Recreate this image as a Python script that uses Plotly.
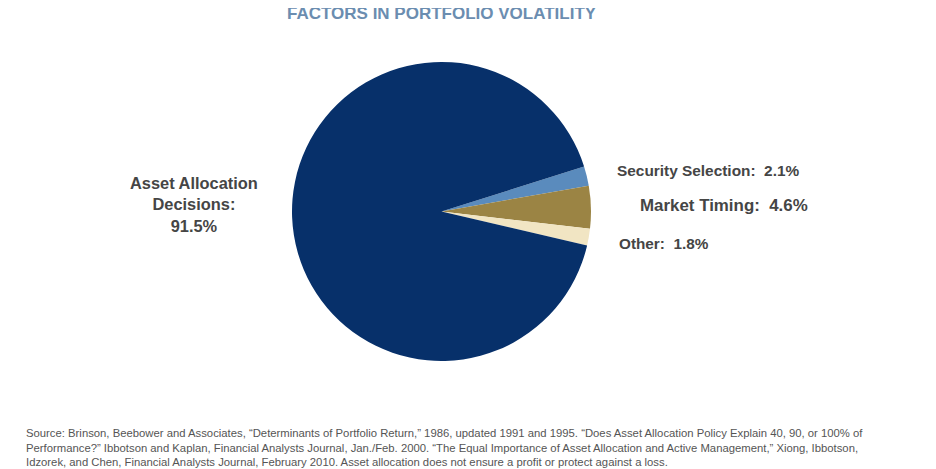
import plotly.graph_objects as go

# slices, clockwise from the top edge of Security Selection
labels = ["Security Selection", "Market Timing", "Other", "Asset Allocation Decisions"]
values = [2.1, 4.6, 1.8, 91.5]
colors = ["#5a8bbd", "#9b8444", "#f1e5c3", "#07306a"]

title = "FACTORS IN PORTFOLIO VOLATILITY"
source_lines = [
    "Source: Brinson, Beebower and Associates, “Determinants of Portfolio Return,” 1986, updated 1991 and 1995. “Does Asset Allocation Policy Explain 40, 90, or 100% of",
    "Performance?” Ibbotson and Kaplan, Financial Analysts Journal, Jan./Feb. 2000. “The Equal Importance of Asset Allocation and Active Management,” Xiong, Ibbotson,",
    "Idzorek, and Chen, Financial Analysts Journal, February 2010. Asset allocation does not ensure a profit or protect against a loss.",
]

# page has an 8px body margin, figure fills the rest of the window
OFF = 8
W, H = 928, 461


def px(x):
    return (x - OFF) / W


def py(y):
    return 1 - (y - OFF) / H


fig = go.Figure(go.Pie(
    labels=labels,
    values=values,
    marker=dict(colors=colors, line=dict(width=0)),
    sort=False,
    direction="clockwise",
    rotation=72.5,
    textinfo="none",
    hoverinfo="label+percent",
    showlegend=False,
    domain=dict(x=[px(292), px(591)], y=[py(361), py(62)]),
))

FONT = "Liberation Sans, Arial, sans-serif"

# label positions in pixels (x, y, font size)
pos = {
    "Security Selection": (615, 170, 15.4),
    "Market Timing": (638, 206, 16.9),
    "Other": (617, 243, 15.3),
}
for name, v in zip(labels, values):
    if name in pos:
        x, y, fs = pos[name]
        fig.add_annotation(x=px(x), y=py(y), xref="paper", yref="paper",
                           text="<b>%s:  %.1f%%</b>" % (name, v), showarrow=False,
                           xanchor="left", yanchor="middle",
                           font=dict(family=FONT, size=fs, color="#454545"))

fig.add_annotation(x=px(194), y=py(205), xref="paper", yref="paper",
                   text="<b>Asset Allocation<br>Decisions:<br>%.1f%%</b>" % values[3],
                   showarrow=False, xanchor="center", yanchor="middle", align="center",
                   font=dict(family=FONT, size=16.4, color="#454545"))

fig.add_annotation(x=px(442), y=py(14), xref="paper", yref="paper",
                   text="<b>%s</b>" % title, showarrow=False,
                   xanchor="center", yanchor="middle", borderpad=0,
                   font=dict(family=FONT, size=17, color="#6b8db0"))

fig.add_annotation(x=px(24), y=py(447.5), xref="paper", yref="paper",
                   text="<br>".join(source_lines), showarrow=False,
                   xanchor="left", yanchor="middle", align="left",
                   font=dict(family=FONT, size=11.3, color="#555555"))

fig.update_layout(
    width=W, height=H,
    margin=dict(l=0, r=0, t=0, b=0),
    paper_bgcolor="white",
    plot_bgcolor="white",
)

fig.write_html("out.html")
